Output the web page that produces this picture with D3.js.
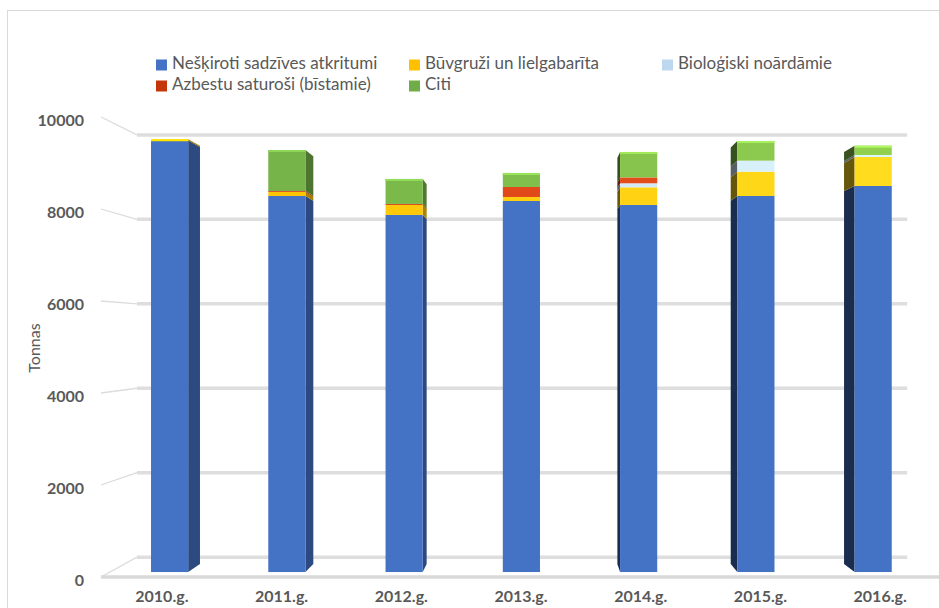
<!DOCTYPE html>
<html>
<head>
<meta charset="utf-8">
<script src="https://cdn.jsdelivr.net/npm/d3@7/dist/d3.min.js"></script>
<style>
  html, body { margin: 0; padding: 0; background: #fff; }
  svg { display: block; font-family: Lato, "Open Sans", sans-serif; }
</style>
</head>
<body>
<svg id="chart" width="939" height="608"></svg>
<script>
// Waste collected per year, tonnes (stack order bottom → top)
const years = ["2010.g.", "2011.g.", "2012.g.", "2013.g.", "2014.g.", "2015.g.", "2016.g."];
const neskiroti  = [9580, 8346, 7925, 8235, 8147, 8346, 8568];
const buvgruzi   = [25, 90, 222, 89, 392, 540, 644];
const biologiski = [0, 0, 0, 0, 89, 244, 44];
const azbests    = [0, 20, 22, 222, 130, 0, 0];
const citi       = [0, 910, 555, 311, 565, 437, 207];

const seriesNames = [
  "Nešķiroti sadzīves atkritumi",
  "Būvgruži un lielgabarīta",
  "Bioloģiski noārdāmie",
  "Azbestu saturoši (bīstamie)",
  "Citi"
];
const yTicks = [0, 2000, 4000, 6000, 8000, 10000];

// Per-series colours: legend swatch, front face at the left end, front face at the right end
const legendColors = ["#4472C4", "#FFC000", "#BDD7EE", "#C5350B", "#70AD47"];
const frontLeft    = ["#4472C4", "#FFC000", "#BDD7EE", "#D93F19", "#70AD47"];
const frontRight   = ["#4472C4", "#FFDC1E", "#DDF5FC", "#E8521C", "#92D050"];

const keys = ["n", "b", "bio", "a", "c"];
const rows = years.map((y, i) => ({
  year: y, n: neskiroti[i], b: buvgruzi[i], bio: biologiski[i], a: azbests[i], c: citi[i]
}));

const svg = d3.select("#chart");

// Simple perspective: points on the front plane pulled toward a vanishing point by depth d
const VPX = 540, VPY = 335, K = 0.082;
const proj = (x, y, d) => [x + (VPX - x) * K * d, y + (VPY - y) * K * d];
const D1 = 0.25, D2 = 0.65;   // bar front / back depth; back wall at d = 1

const x = d3.scaleBand().domain(years).range([102, 940]).paddingInner(0.683).paddingOuter(0.3415);
const yF = d3.scaleLinear().domain([0, 10000]).range([577, 117]);

// Chart area border
svg.append("rect").attr("x", 7.5).attr("y", 10.5).attr("width", 1000).attr("height", 1000)
  .attr("fill", "none").attr("stroke", "#d9d9d9").attr("stroke-width", 1);

// Walls: side wall lines and back wall gridlines
const wall = svg.append("g");
const wallLeft = 101, wallRight = 940;
yTicks.forEach(t => {
  const a = [wallLeft, yF(t)], b = proj(wallLeft, yF(t), 1), c = proj(wallRight, yF(t), 1);
  wall.append("line").attr("x1", a[0]).attr("y1", a[1]).attr("x2", b[0]).attr("y2", b[1])
    .attr("stroke", "#dcdcdc").attr("stroke-width", 1.3);
  wall.append("line").attr("x1", b[0]).attr("y1", b[1]).attr("x2", c[0]).attr("y2", c[1])
    .attr("stroke", "#dedede").attr("stroke-width", 3.5);
});
// Floor front edge
wall.append("line").attr("x1", wallLeft).attr("y1", yF(0)).attr("x2", 945).attr("y2", yF(0))
  .attr("stroke", "#d9d9d9").attr("stroke-width", 3.5);

// Stacked bars
const stacked = d3.stack().keys(keys)(rows);
const bars = svg.append("g");
const poly = pts => pts.map(p => p.join(",")).join(" ");

years.forEach((yr, i) => {
  const xl = x(yr), xr = x(yr) + x.bandwidth();
  const t = i / (years.length - 1);
  let edge = null;
  if (xr < VPX - 0.5) edge = xr; else if (xl > VPX) edge = xl;
  const sideDark = xr < VPX ? 1.2 : 2.6;
  let topIdx = -1;
  stacked.forEach((s, k) => { if (s[i][1] - s[i][0] > 0) topIdx = k; });

  stacked.forEach((s, k) => {
    const v0 = s[i][0], v1 = s[i][1];
    if (v1 - v0 <= 0) return;
    const col = d3.interpolateRgb(frontLeft[k], frontRight[k])(t);
    if (edge !== null) {
      bars.append("polygon")
        .attr("points", poly([proj(edge, yF(v0), D1), proj(edge, yF(v1), D1),
                              proj(edge, yF(v1), D2), proj(edge, yF(v0), D2)]))
        .attr("fill", d3.color(col).darker(sideDark).formatHex());
    }
    const p1 = proj(xl, yF(v1), D1), p2 = proj(xr, yF(v0), D1);
    bars.append("rect").attr("x", p1[0]).attr("y", p1[1])
      .attr("width", p2[0] - p1[0]).attr("height", p2[1] - p1[1]).attr("fill", col);
    if (k === topIdx) {
      bars.append("rect").attr("x", p1[0]).attr("y", p1[1])
        .attr("width", p2[0] - p1[0]).attr("height", 2)
        .attr("fill", d3.color(col).brighter(0.5).formatHex());
    }
  });
});

// Value axis labels (front plane)
const yAxis = svg.append("g").attr("transform", "translate(84,3)")
  .call(d3.axisLeft(yF).tickValues(yTicks).tickSize(0).tickPadding(0).tickFormat(d3.format("d")));
yAxis.select(".domain").remove();
yAxis.selectAll("text").attr("fill", "#595959").style("font-size", "16px").style("font-weight", "bold")
  .style("font-family", "Lato, sans-serif");

// Category labels
const xAxis = svg.append("g").attr("transform", "translate(0,591)")
  .call(d3.axisBottom(x).tickSize(0).tickPadding(0));
xAxis.select(".domain").remove();
xAxis.selectAll("text").attr("fill", "#595959").style("font-size", "16px").style("font-weight", "bold")
  .style("font-family", "Lato, sans-serif");

// Axis title
svg.append("text").attr("transform", "translate(40,348) rotate(-90)")
  .attr("text-anchor", "middle").attr("fill", "#595959").style("font-size", "16px")
  .text("Tonnas");

// Legend
const legendPos = [[156, 65], [409, 65], [662, 65], [156, 86], [409, 86]];
const legend = svg.append("g");
seriesNames.forEach((name, k) => {
  const [lx, ly] = legendPos[k];
  legend.append("rect").attr("x", lx).attr("y", ly - 5.5).attr("width", 11).attr("height", 11)
    .attr("fill", legendColors[k]);
  legend.append("text").attr("x", lx + 16).attr("y", ly).attr("dominant-baseline", "middle")
    .attr("fill", "#595959").style("font-size", "17px").text(name);
});
</script>
</body>
</html>
